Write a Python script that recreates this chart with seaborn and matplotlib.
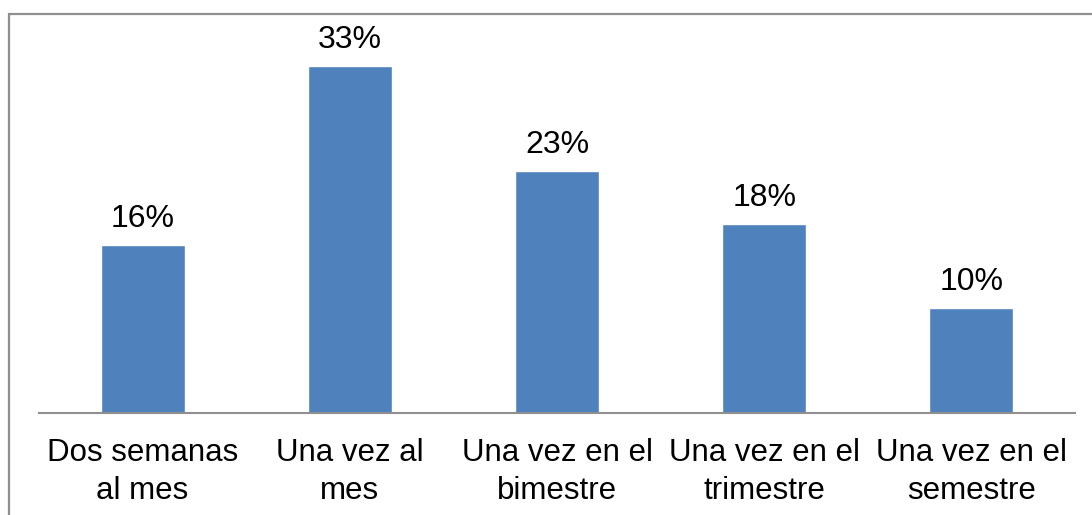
import matplotlib
matplotlib.use("Agg")
import matplotlib.pyplot as plt
import seaborn as sns
import pandas as pd
from matplotlib.patches import Rectangle

categories = ["Dos semanas\nal mes", "Una vez al\nmes", "Una vez en el\nbimestre",
              "Una vez en el\ntrimestre", "Una vez en el\nsemestre"]
values = [16, 33, 23, 18, 10]
labels = ["16%", "33%", "23%", "18%", "10%"]

sns.set_theme(style="white")
plt.rcParams["font.family"] = ["Liberation Sans", "DejaVu Sans"]

W, H = 1092, 515
fig = plt.figure(figsize=(W / 100, H / 100), dpi=100)

# chart frame, running off the right and bottom edges
fig.patches.append(Rectangle((9 / W, -0.1), 1.2, 1 - 14 / H + 0.1,
                             transform=fig.transFigure, fill=False,
                             edgecolor="#8f8f8f", linewidth=1.6, zorder=0))

left, right, bottom = 39, 1075, 413
ymax = 36
top = bottom - ymax * 10.515
ax = fig.add_axes([left / W, 1 - bottom / H, (right - left) / W, (bottom - top) / H])

df = pd.DataFrame({"cat": categories, "val": values})
sns.barplot(data=df, x="cat", y="val", color="#4f81bd", saturation=1,
            width=0.405, ax=ax)

ax.set_ylim(0, ymax)
ax.set_xlim(-0.5, len(categories) - 0.5)
ax.set_xlabel("")
ax.set_ylabel("")
ax.set_yticks([])
for side in ["top", "right", "left"]:
    ax.spines[side].set_visible(False)
ax.spines["bottom"].set_color("#8f8f8f")
ax.spines["bottom"].set_linewidth(1.5)
ax.patch.set_alpha(0)
ax.tick_params(axis="x", length=0, pad=18, labelsize=22.5, labelcolor="black")
for t in ax.get_xticklabels():
    t.set_linespacing(1.35)

for i, (v, lab) in enumerate(zip(values, labels)):
    ax.annotate(lab, (i, v), xytext=(0, 8), textcoords="offset points",
                ha="center", va="bottom", fontsize=23, color="black")

fig.savefig("out.png", dpi=100)
